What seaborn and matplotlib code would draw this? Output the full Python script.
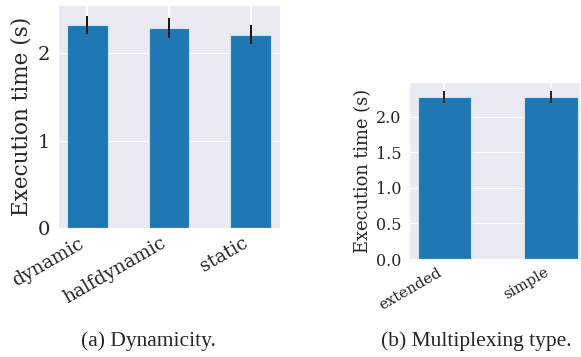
import matplotlib
matplotlib.use("Agg")
import matplotlib.pyplot as plt
import seaborn as sns

# (a) Dynamicity
dyn_labels = ["dynamic", "halfdynamic", "static"]
dyn_times = [2.32, 2.29, 2.21]
dyn_err = [0.105, 0.115, 0.11]

# (b) Multiplexing type
mux_labels = ["extended", "simple"]
mux_times = [2.28, 2.28]
mux_err = [0.088, 0.088]

sns.set_style("darkgrid")
plt.rcParams["font.family"] = ["DejaVu Serif"]
plt.rcParams["mathtext.fontset"] = "dejavuserif"

BLUE = "#1f77b4"

fig = plt.figure(figsize=(5.81, 3.57), dpi=100)

ax1 = fig.add_axes([0.0998, 0.3613, 0.3821, 0.6246])
sns.barplot(x=dyn_labels, y=dyn_times, width=0.5, color=BLUE, saturation=1,
            edgecolor="#cfe0ee", linewidth=0.8, ax=ax1)
ax1.errorbar(range(len(dyn_labels)), dyn_times, yerr=dyn_err, fmt="none",
             ecolor="#111111", elinewidth=1.4)
ax1.set_xlim(-0.36, 2.36)
ax1.set_ylim(0, 2.55)
ax1.set_yticks([0, 1, 2])
ax1.grid(True, axis="x", color="white", linewidth=1.2)
ax1.set_axisbelow(True)
ax1.tick_params(axis="y", labelsize=14, pad=2)
ax1.tick_params(axis="x", labelsize=13.5, pad=1)
plt.setp(ax1.get_xticklabels(), rotation=30, ha="right")
ax1.set_ylabel("Execution time (s)", fontsize=15.5, labelpad=4)
ax1.set_xlabel("")

ax2 = fig.add_axes([0.704, 0.2745, 0.2943, 0.4958])
sns.barplot(x=mux_labels, y=mux_times, width=0.5, color=BLUE, saturation=1,
            edgecolor="#cfe0ee", linewidth=0.8, ax=ax2)
ax2.errorbar(range(len(mux_labels)), mux_times, yerr=mux_err, fmt="none",
             ecolor="#222222", elinewidth=1.4)
ax2.set_xlim(-0.33, 1.27)
ax2.set_ylim(0, 2.49)
ax2.set_yticks([0.0, 0.5, 1.0, 1.5, 2.0])
ax2.set_yticklabels(["0.0", "0.5", "1.0", "1.5", "2.0"])
ax2.grid(True, axis="x", color="white", linewidth=1.2)
ax2.set_axisbelow(True)
ax2.tick_params(axis="y", labelsize=11.5, pad=2)
ax2.tick_params(axis="x", labelsize=10.7, pad=1)
plt.setp(ax2.get_xticklabels(), rotation=30, ha="right")
ax2.set_ylabel("Execution time (s)", fontsize=12.9, labelpad=3)
ax2.set_xlabel("")

fig.text(148 / 581, 1 - 341 / 357, "(a) Dynamicity.", ha="center", va="center",
         fontsize=15.5, family=["Liberation Serif"])
fig.text(476 / 581, 1 - 341 / 357, "(b) Multiplexing type.", ha="center", va="center",
         fontsize=15.5, family=["Liberation Serif"])

fig.savefig("out.png", dpi=100)
